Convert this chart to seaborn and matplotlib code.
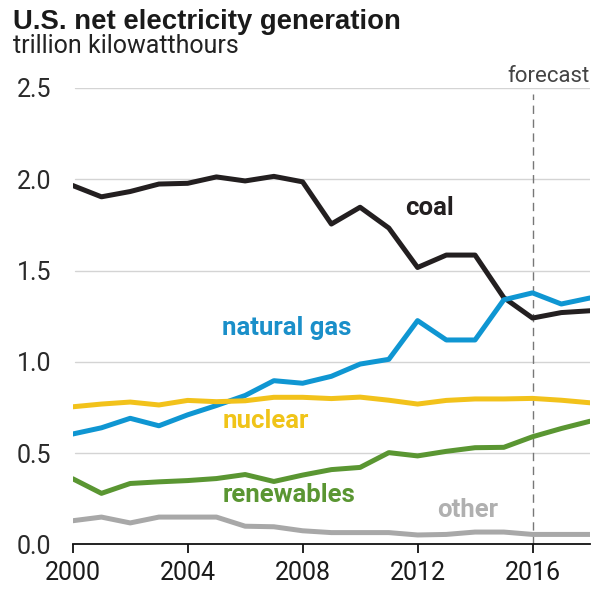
import matplotlib
matplotlib.use("Agg")
import matplotlib.pyplot as plt
import seaborn as sns
import pandas as pd

years = list(range(2000, 2019))
coal = [1.966, 1.904, 1.933, 1.974, 1.978, 2.013, 1.991, 2.016, 1.986, 1.755,
        1.847, 1.733, 1.517, 1.585, 1.585, 1.352, 1.24, 1.27, 1.28]
natural_gas = [0.605, 0.639, 0.691, 0.650, 0.710, 0.761, 0.816, 0.897, 0.883, 0.921,
               0.988, 1.014, 1.226, 1.120, 1.120, 1.340, 1.378, 1.317, 1.350]
nuclear = [0.754, 0.769, 0.780, 0.764, 0.789, 0.782, 0.787, 0.806, 0.806, 0.799,
           0.807, 0.790, 0.769, 0.789, 0.797, 0.797, 0.800, 0.790, 0.776]
renewables = [0.360, 0.280, 0.334, 0.343, 0.350, 0.361, 0.383, 0.345, 0.380, 0.410,
              0.422, 0.503, 0.485, 0.510, 0.530, 0.532, 0.590, 0.635, 0.675]
other = [0.130, 0.150, 0.118, 0.150, 0.150, 0.150, 0.100, 0.097, 0.075, 0.065,
         0.065, 0.065, 0.052, 0.055, 0.068, 0.068, 0.055, 0.055, 0.055]

series_names = ["coal", "natural gas", "nuclear", "renewables", "other"]
series_values = [coal, natural_gas, nuclear, renewables, other]
colors = ["#231f20", "#0f96d2", "#f2c21b", "#5a9632", "#a8a8a8"]
label_colors = ["#231f20", "#1a8fc9", "#f0c419", "#5a9632", "#b0b0b0"]

yticks = [0.0, 0.5, 1.0, 1.5, 2.0, 2.5]
ytick_labels = ["0.0", "0.5", "1.0", "1.5", "2.0", "2.5"]
xticks = [2000, 2004, 2008, 2012, 2016]
xtick_labels = ["2000", "2004", "2008", "2012", "2016"]
forecast_year = 2016

rows = []
for name, vals in zip(series_names, series_values):
    for y, v in zip(years, vals):
        rows.append({"year": y, "value": v, "source": name})
df = pd.DataFrame(rows)

sns.set_style("white")
plt.rcParams["font.family"] = ["Roboto", "DejaVu Sans"]

fig = plt.figure(figsize=(5.95, 5.89), dpi=100)
ax = fig.add_axes([0.1222, 0.0756, 0.8694, 0.775])

sns.lineplot(data=df, x="year", y="value", hue="source",
             palette=dict(zip(series_names, colors)), hue_order=series_names,
             linewidth=3.6, legend=False, ax=ax, zorder=3)

ax.set_xlim(2000, 2018)
ax.set_ylim(0, 2.5)
ax.set_yticks(yticks)
ax.set_yticklabels(ytick_labels)
ax.set_xticks(xticks)
ax.set_xticklabels(xtick_labels)
ax.set_xlabel("")
ax.set_ylabel("")

for yv in yticks[1:]:
    ax.axhline(yv, xmin=0.0045, xmax=1.0, color="#d4d4d4", lw=1.0, zorder=1)

for s in ["top", "right", "left"]:
    ax.spines[s].set_visible(False)
ax.spines["bottom"].set_color("#111111")
ax.spines["bottom"].set_linewidth(1.3)
ax.spines["bottom"].set_zorder(4)

ax.tick_params(axis="y", length=0, pad=15.5, labelsize=18, labelcolor="#2a2a2a")
ax.tick_params(axis="x", length=6.5, width=1.3, direction="out", color="#111111",
               pad=5.5, labelsize=18, labelcolor="#1a1a1a", bottom=True)

ax.axvline(forecast_year, ymin=0, ymax=0.987, color="#777777", lw=1.0,
           ls=(0, (6, 4)), zorder=2)
ax.text(2018.0, 2.534, "forecast", ha="right", va="baseline", fontsize=16,
        color="#444444")

lab_kw = dict(fontsize=18.5, fontweight="bold", ha="left", va="baseline")
ax.text(2011.58, 1.804, "coal", color=label_colors[0], **lab_kw)
ax.text(2005.2, 1.147, "natural gas", color=label_colors[1], **lab_kw)
ax.text(2005.2, 0.638, "nuclear", color=label_colors[2], **lab_kw)
ax.text(2005.2, 0.234, "renewables", color=label_colors[3], **lab_kw)
ax.text(2012.69, 0.151, "other", color=label_colors[4], **lab_kw)

fig.text(0.0218, 0.9508, "U.S. net electricity generation", fontsize=19.8,
         fontweight="bold", color="#1a1a1a", ha="left", va="baseline",
         family=["Liberation Sans", "DejaVu Sans"])
fig.text(0.0218, 0.9095, "trillion kilowatthours", fontsize=18,
         color="#222222", ha="left", va="baseline")

fig.savefig("out.png", dpi=100, facecolor="white")
